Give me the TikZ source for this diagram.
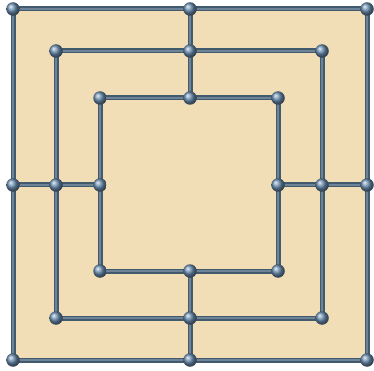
\documentclass[tikz,border=0pt]{standalone}
\usepackage{xcolor}
\usepackage{tikz}
\definecolor{boardcol}{RGB}{242,222,182}
\definecolor{barcol}{RGB}{66,90,110}
\definecolor{shinecol}{RGB}{110,132,150}
\definecolor{pegcol}{RGB}{105,140,175}

\begin{document}
\begin{tikzpicture}[x=1pt, y=-1pt,
  bar/.style={line width=5pt, barcol, line join=miter},
  shine/.style={line width=1.2pt, shinecol},
  peg/.style={circle, inner sep=0pt, minimum size=13.5pt, shading=ball, ball color=pegcol}]
  \useasboundingbox (0,0) rectangle (374,371);
  % corner and middle points of the three squares
  \foreach \s/\l/\t/\r/\b/\mx/\my in {o/13/9/367/360/190/185, m/56/51/322/318/190/185, i/100/98/278/271/190/185} {
    \coordinate (\s tl) at (\l,\t);
    \coordinate (\s tr) at (\r,\t);
    \coordinate (\s br) at (\r,\b);
    \coordinate (\s bl) at (\l,\b);
    \coordinate (\s tm) at (\mx,\t);
    \coordinate (\s bm) at (\mx,\b);
    \coordinate (\s ml) at (\l,\my);
    \coordinate (\s mr) at (\r,\my);
  }
  \fill[boardcol] (otl) rectangle (obr);
  \foreach \st in {bar, shine} {
    \foreach \s in {o, m, i}
      \draw[\st] (\s tl) -- (\s tr) -- (\s br) -- (\s bl) -- cycle;
    \draw[\st] (otm) -- (itm);
    \draw[\st] (obm) -- (ibm);
    \draw[\st] (oml) -- (iml);
    \draw[\st] (omr) -- (imr);
  }
  % pegs
  \foreach \s in {o, m, i}
    \foreach \p in {tl, tm, tr, mr, br, bm, bl, ml}
      \node[peg] (peg\s\p) at (\s\p) {};
\end{tikzpicture}
\end{document}
